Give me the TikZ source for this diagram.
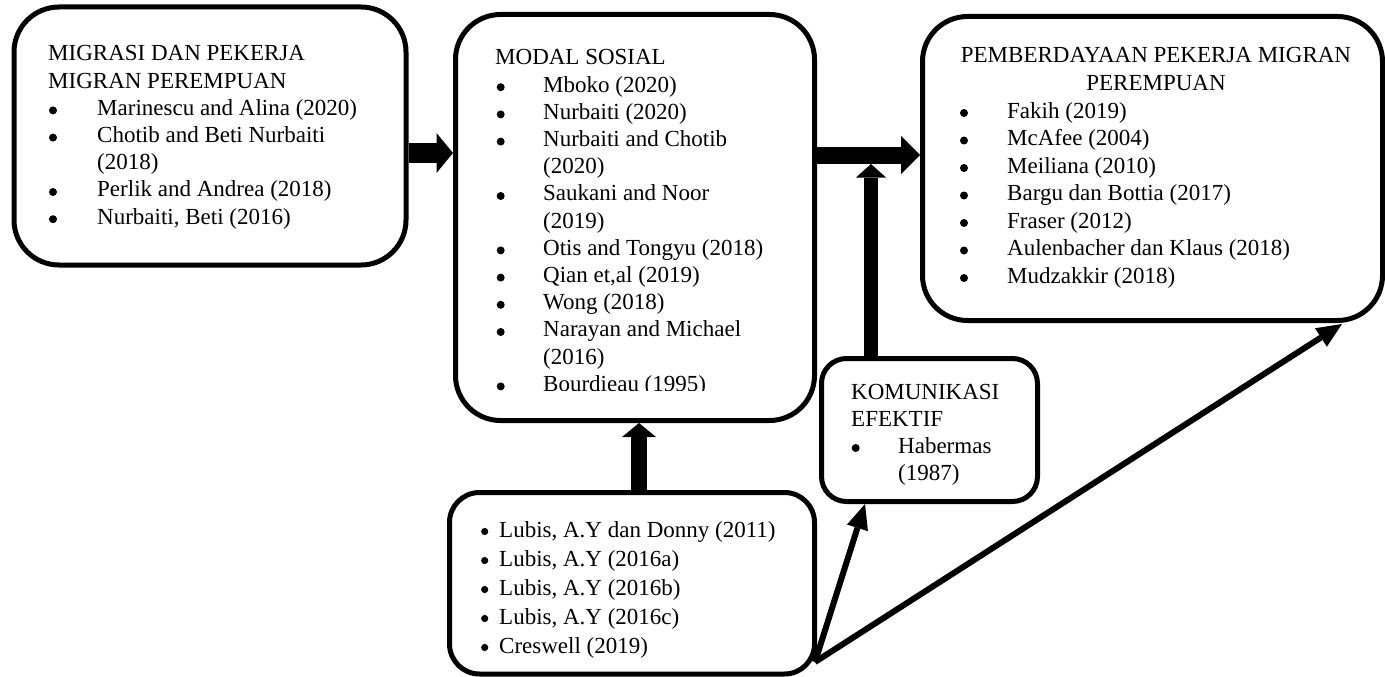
\documentclass[tikz,border=0pt]{standalone}
\usepackage{fontspec}
\setmainfont{Liberation Serif}
\usetikzlibrary{arrows.meta}
\newcommand\ind[2]{\hspace*{#1}#2}
\begin{document}
\begin{tikzpicture}[x=1pt,y=-1pt,
  rbox/.style={draw, line width=5pt, rounded corners=#1, inner sep=0pt, fill=white},
  txt/.style={anchor=base west, inner sep=0pt, font=\fontsize{23pt}{#1}\selectfont},
  ctxt/.style={anchor=base, inner sep=0pt, font=\fontsize{23pt}{#1}\selectfont},
  blockarrow/.style n args={3}{line width=#1, -{Triangle[width=#2, length=#3, line width=0pt]}},
  thinarrow/.style={line width=6pt, -{Triangle[width=22pt, length=25pt, line width=0pt]}},
  bulletdot/.style={fill=black}]
\useasboundingbox (0,0) rectangle (1385,677);

% boxes
\node[rbox=45pt, minimum width=392pt, minimum height=258pt] (b1) at (210,136) {};
\node[rbox=45pt, minimum width=359pt, minimum height=406pt] (b2) at (635,217.5) {};
\node[rbox=45pt, minimum width=460pt, minimum height=304pt] (b3) at (1152.5,168.5) {};
\node[rbox=25pt, minimum width=216pt, minimum height=143pt] (b4) at (929.5,430) {};
\node[rbox=30pt, minimum width=365pt, minimum height=181.5pt] (b5) at (632,583.25) {};

% texts
\node[txt=27.2pt] (t1) at (48,61) {\parbox[t]{350pt}{\raggedright
MIGRASI DAN PEKERJA\\
MIGRAN PEREMPUAN\\
\ind{49pt}{Marinescu and Alina (2020)}\\
\ind{49pt}{Chotib and Beti Nurbaiti}\\
\ind{49pt}{(2018)}\\
\ind{49pt}{Perlik and Andrea (2018)}\\
\ind{49pt}{Nurbaiti, Beti (2016)}}};
\foreach \k in {2,3,5,6} \fill[bulletdot] (53,61+27.2*\k-5) circle (4);

\begin{scope}
\clip (455,14) rectangle (815,390);
\node[txt=27.2pt] (t2) at (495,65) {\parbox[t]{310pt}{\raggedright
MODAL SOSIAL\\
\ind{48pt}{Mboko (2020)}\\
\ind{48pt}{Nurbaiti (2020)}\\
\ind{48pt}{Nurbaiti and Chotib}\\
\ind{48pt}{(2020)}\\
\ind{48pt}{Saukani and Noor}\\
\ind{48pt}{(2019)}\\
\ind{48pt}{Otis and Tongyu (2018)}\\
\ind{48pt}{Qian et,al (2019)}\\
\ind{48pt}{Wong (2018)}\\
\ind{48pt}{Narayan and Michael}\\
\ind{48pt}{(2016)}\\
\ind{48pt}{Bourdieau (1995)}}};
\end{scope}
\foreach \k in {1,2,3,5,7,8,9,10,12} \fill[bulletdot] (500.7,65+27.2*\k-5) circle (4);

\node[ctxt=27.5pt] (t3a) at (1156,63) {\parbox[t]{440pt}{\centering
PEMBERDAYAAN PEKERJA MIGRAN\\
PEREMPUAN}};
\node[txt=27.5pt] (t3) at (1007,118) {\parbox[t]{360pt}{\raggedright
Fakih (2019)\\
McAfee (2004)\\
Meiliana (2010)\\
Bargu dan Bottia (2017)\\
Fraser (2012)\\
Aulenbacher dan Klaus (2018)\\
Mudzakkir (2018)}};
\foreach \k in {0,...,6} \fill[bulletdot] (964,118+27.5*\k-5) circle (4);

\node[txt=27pt] (t4) at (851,399) {\parbox[t]{180pt}{\raggedright
KOMUNIKASI\\
EFEKTIF\\
\ind{47pt}{Habermas}\\
\ind{47pt}{(1987)}}};
\fill[bulletdot] (855.7,448) circle (4);

\node[txt=29pt] (t5) at (499,537) {\parbox[t]{310pt}{\raggedright
Lubis, A.Y dan Donny (2011)\\
Lubis, A.Y (2016a)\\
Lubis, A.Y (2016b)\\
Lubis, A.Y (2016c)\\
Creswell (2019)}};
\foreach \k in {0,...,4} \fill[bulletdot] (484.7,537+29*\k-5.5) circle (3.6);

% helper coordinates
\coordinate (y1) at (0,153);
\coordinate (y2) at (0,155);
\coordinate (x3) at (871,0);
\coordinate (j3) at (871,164);
\coordinate (x4) at (639,0);
\coordinate (o5) at (815,662);
\coordinate (t5e) at (865,504);
\coordinate (t6e) at (1342,324);

% connectors
\draw[blockarrow={20.5pt}{40pt}{16.5pt}] (b1.east |- y1) -- (b2.west |- y1);
\draw[blockarrow={17pt}{38pt}{19pt}] (b2.east |- y2) -- (b3.west |- y2);
\draw[blockarrow={14pt}{30pt}{13.5pt}] (b4.north -| x3) -- (j3);
\draw[blockarrow={16pt}{34pt}{14pt}] (b5.north -| x4) -- (b2.south -| x4);
\draw[thinarrow] (o5) -- (t5e);
\draw[thinarrow] (o5) -- (t6e);
\end{tikzpicture}
\end{document}
